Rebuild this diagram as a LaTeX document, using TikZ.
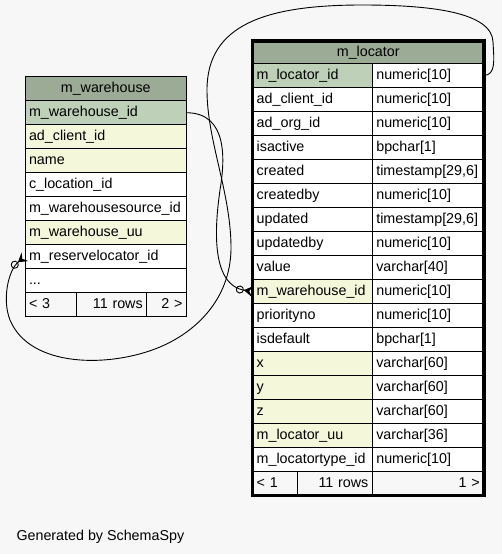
\documentclass[tikz,border=0pt]{standalone}
\usepackage{fontspec}
\setmainfont{Liberation Sans}
\usetikzlibrary{arrows.meta,positioning,fit}
\definecolor{SpyHead}{HTML}{9BAB96}
\definecolor{SpyKey}{HTML}{BED1B8}
\definecolor{SpyIndex}{HTML}{F4F7DA}
\definecolor{SpyBack}{HTML}{F7F7F7}

\begin{document}
\begin{tikzpicture}[x=1pt, y=-1pt, node distance=0pt,
  every node/.style={font=\fontsize{14.3}{16}\selectfont, outer sep=0pt},
  cell/.style={draw, line width=0.9pt, fill=white, minimum height=24pt, inner ysep=0pt, inner xsep=4pt, text height=10.5pt, text depth=3pt, align=left},
  head/.style={draw, line width=0.9pt, fill=SpyHead, inner sep=0pt, text height=10.5pt, text depth=3pt, align=center},
  foot/.style={cell, fill=SpyBack},
  whcell/.style={cell, text width=153.5pt},
  colcell/.style={cell, text width=111.6pt},
  typecell/.style={cell, text width=103.5pt},
  fk/.style={line width=0.9pt, -{Circle[open, length=8pt] Stealth[reversed, length=9pt, width=11pt, inset=3.5pt]}}]
\path[use as bounding box, fill=SpyBack] (0,0) rectangle (502,554);

% m_warehouse
\node[head, minimum width=161.5pt, minimum height=24.7pt, anchor=north west] (wh) at (25,76) {m\_warehouse};
\node[whcell, fill=SpyKey, below=of wh] (wh-id) {m\_warehouse\_id};
\node[whcell, fill=SpyIndex, below=of wh-id] (wh-client) {ad\_client\_id};
\node[whcell, fill=SpyIndex, below=of wh-client] (wh-name) {name};
\node[whcell, below=of wh-name] (wh-loc) {c\_location\_id};
\node[whcell, below=of wh-loc] (wh-src) {m\_warehousesource\_id};
\node[whcell, fill=SpyIndex, below=of wh-src] (wh-uu) {m\_warehouse\_uu};
\node[whcell, below=of wh-uu] (wh-res) {m\_reservelocator\_id};
\node[whcell, below=of wh-res] (wh-more) {...};
\node[foot, text width=43pt, below=of wh-more.south west, anchor=north west] (wh-prev) {< 3};
\node[foot, text width=62.7pt, align=right, right=of wh-prev] (wh-rows) {11 rows};
\node[foot, text width=31.8pt, align=right, right=of wh-rows] (wh-next) {2 >};

% m_locator
\node[head, minimum width=231.1pt, minimum height=22.5pt, anchor=north west] (loc) at (252.7,41) {m\_locator};
\node[colcell, fill=SpyKey, below=of loc.south west, anchor=north west] (loc-id) {m\_locator\_id};
\node[typecell, right=of loc-id] (loc-idt) {numeric[10]};
\node[colcell, below=of loc-id] (loc-client) {ad\_client\_id};
\node[typecell, right=of loc-client] (loc-clientt) {numeric[10]};
\node[colcell, below=of loc-client] (loc-org) {ad\_org\_id};
\node[typecell, right=of loc-org] (loc-orgt) {numeric[10]};
\node[colcell, below=of loc-org] (loc-active) {isactive};
\node[typecell, right=of loc-active] (loc-activet) {bpchar[1]};
\node[colcell, below=of loc-active] (loc-created) {created};
\node[typecell, right=of loc-created] (loc-createdt) {timestamp[29,6]};
\node[colcell, below=of loc-created] (loc-createdby) {createdby};
\node[typecell, right=of loc-createdby] (loc-createdbyt) {numeric[10]};
\node[colcell, below=of loc-createdby] (loc-updated) {updated};
\node[typecell, right=of loc-updated] (loc-updatedt) {timestamp[29,6]};
\node[colcell, below=of loc-updated] (loc-updatedby) {updatedby};
\node[typecell, right=of loc-updatedby] (loc-updatedbyt) {numeric[10]};
\node[colcell, below=of loc-updatedby] (loc-value) {value};
\node[typecell, right=of loc-value] (loc-valuet) {varchar[40]};
\node[colcell, fill=SpyIndex, below=of loc-value] (loc-wid) {m\_warehouse\_id};
\node[typecell, right=of loc-wid] (loc-widt) {numeric[10]};
\node[colcell, below=of loc-wid] (loc-prio) {priorityno};
\node[typecell, right=of loc-prio] (loc-priot) {numeric[10]};
\node[colcell, below=of loc-prio] (loc-default) {isdefault};
\node[typecell, right=of loc-default] (loc-defaultt) {bpchar[1]};
\node[colcell, fill=SpyIndex, below=of loc-default] (loc-x) {x};
\node[typecell, right=of loc-x] (loc-xt) {varchar[60]};
\node[colcell, fill=SpyIndex, below=of loc-x] (loc-y) {y};
\node[typecell, right=of loc-y] (loc-yt) {varchar[60]};
\node[colcell, fill=SpyIndex, below=of loc-y] (loc-z) {z};
\node[typecell, right=of loc-z] (loc-zt) {varchar[60]};
\node[colcell, fill=SpyIndex, below=of loc-z] (loc-uu) {m\_locator\_uu};
\node[typecell, right=of loc-uu] (loc-uut) {varchar[36]};
\node[colcell, below=of loc-uu] (loc-type) {m\_locatortype\_id};
\node[typecell, right=of loc-type] (loc-typet) {numeric[10]};
\node[foot, text width=37pt, below=of loc-type.south west, anchor=north west] (loc-prev) {< 1};
\node[foot, text width=66.6pt, align=right, right=of loc-prev] (loc-rows) {11 rows};
\node[foot, text width=103.5pt, align=right, right=of loc-rows] (loc-next) {1 >};
\node[draw, line width=3.5pt, inner sep=0pt, fit=(loc)(loc-prev)(loc-next)] (loc-frame) {};

% foreign keys
\draw[fk] (wh-id.east) .. controls (228,113) and (225,160) .. (220,190)
  .. controls (215,225) and (210,285) .. (loc-wid.west);
\draw[fk] (loc-idt.east) .. controls (496,75) and (494,60) .. (493,42)
  .. controls (492,12) and (430,5) .. (362,5)
  .. controls (265,5) and (207,25) .. (207,90)
  .. controls (207,140) and (230,190) .. (231,245)
  .. controls (232,295) and (200,330) .. (160,347)
  .. controls (110,368) and (30,368) .. (10,320)
  .. controls (2,300) and (8,270) .. (wh-res.west);

\node[anchor=base west, inner sep=0pt] (credit) at (16.5,540) {Generated by SchemaSpy};
\end{tikzpicture}
\end{document}
